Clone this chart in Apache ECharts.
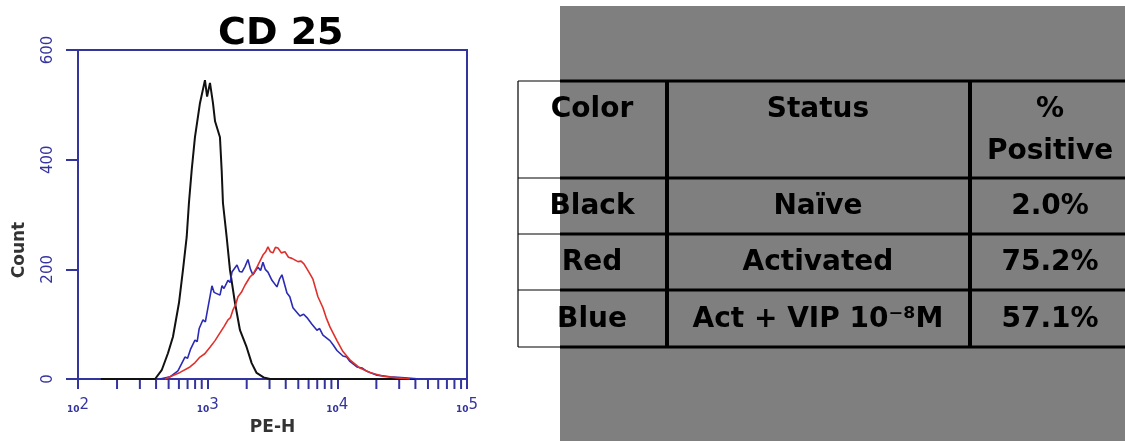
<!DOCTYPE html>
<html><head><meta charset="utf-8">
<script src="https://cdn.jsdelivr.net/npm/echarts@6/dist/echarts.min.js"></script>
<style>html,body{margin:0;padding:0;background:#fff}#c{width:1125px;height:441px}</style>
</head><body><div id="c"></div>
<script>
// ---- data ----
const titleText = 'CD 25';
const xAxisName = 'PE-H';
const yAxisName = 'Count';
const yTickValues = [0, 200, 400, 600];
const xMajorTicks = [100, 1000, 10000, 100000];
const xMinorTicks = [200,300,400,500,600,700,800,900,2000,3000,4000,5000,6000,7000,8000,9000,20000,30000,40000,50000,60000,70000,80000,90000];

// [PE-H value, count]
const blackNaive = [[150,0],[393,0],[442,16],[494,47],[540,77],[601,139],[645,199],[689,259],[717,321],[753,381],[798,441],[872,503],[953,545],[990,515],[1042,540],[1099,503],[1140,470],[1180,472],[1244,441],[1282,381],[1312,321],[1401,259],[1486,199],[1624,139],[1775,89],[1998,58],[2184,29],[2386,11],[2700,3],[3022,0],[40000,0]];
const blueActVip = [[429,0],[512,4],[590,15],[668,40],[700,38],[740,55],[798,71],[830,68],[860,92],[920,108],[960,104],[1005,130],[1079,170],[1120,158],[1159,160],[1244,153],[1290,170],[1336,165],[1434,180],[1490,176],[1540,195],[1683,208],[1760,196],[1839,195],[1940,205],[2045,218],[2140,200],[2235,190],[2442,204],[2560,198],[2669,213],[2780,200],[2917,195],[3132,180],[3421,168],[3580,182],[3740,190],[4088,157],[4300,150],[4547,130],[5149,115],[5500,118],[5829,112],[6371,100],[6961,89],[7300,92],[7745,80],[8770,70],[9300,62],[9931,52],[11050,42],[11800,40],[12510,32],[14160,22],[15500,20],[16910,14],[20200,7],[25440,4],[33200,2],[43350,0]];
const redActivated = [[469,0],[512,4],[612,12],[730,22],[800,30],[872,40],[950,46],[1042,58],[1140,70],[1244,84],[1340,96],[1434,108],[1500,112],[1567,126],[1640,135],[1713,150],[1820,158],[1939,171],[2119,186],[2250,192],[2399,204],[2530,215],[2669,226],[2800,232],[2917,241],[3050,232],[3188,230],[3330,240],[3483,239],[3700,230],[3945,232],[4200,222],[4467,220],[4969,214],[5250,215],[5526,210],[6039,195],[6485,182],[7086,150],[7745,130],[8200,112],[8770,95],[9931,70],[11050,50],[12510,35],[14940,20],[17840,12],[22470,5],[28800,2],[36290,0]];

const tableHeader = ['Color', 'Status', '%', 'Positive'];
const tableColor = ['Black', 'Red', 'Blue'];
const tableStatus = ['Naïve', 'Activated', 'Act + VIP 10⁻⁸M'];
const tablePositive = ['2.0%', '75.2%', '57.1%'];

// ---- styling ----
const AX = '#34349e';
const tableFont = 'bold 28px "DejaVu Sans"';

const chart = echarts.init(document.getElementById('c'), null, {renderer: 'canvas'});

// table graphics
const colX = [592, 818, 1050];
const rowY = [81, 178, 234, 290, 347];
const g = [];
g.push({type: 'rect', shape: {x: 560, y: 6, width: 565, height: 435}, style: {fill: '#7f7f7f'}});
rowY.forEach(y => {
  g.push({type: 'line', shape: {x1: 518, y1: y, x2: 560, y2: y}, style: {stroke: '#000', lineWidth: 1.2}});
  g.push({type: 'line', shape: {x1: 560, y1: y, x2: 1125, y2: y}, style: {stroke: '#000', lineWidth: 3}});
});
g.push({type: 'line', shape: {x1: 518, y1: 81, x2: 518, y2: 347}, style: {stroke: '#000', lineWidth: 1.2}});
[667, 970].forEach(x => g.push({type: 'line', shape: {x1: x, y1: 81, x2: x, y2: 347}, style: {stroke: '#000', lineWidth: 4}}));
function txt(t, x, y) {
  return {type: 'text', x: x, y: y, style: {text: t, font: tableFont, fill: '#000', align: 'center', verticalAlign: 'middle'}};
}
g.push(txt(tableHeader[0], colX[0], 110));
g.push(txt(tableHeader[1], colX[1], 110));
g.push(txt(tableHeader[2], colX[2], 110));
g.push(txt(tableHeader[3], colX[2], 152));
const rowMid = [207, 263, 320];
for (let i = 0; i < 3; i++) {
  g.push(txt(tableColor[i], colX[0], rowMid[i]));
  g.push(txt(tableStatus[i], colX[1], rowMid[i]));
  g.push(txt(tablePositive[i], colX[2], rowMid[i]));
}
g.push({type: 'text', x: 20, y: 250, rotation: Math.PI / 2,
  style: {text: yAxisName, font: 'bold 17px "DejaVu Sans"', fill: '#333', align: 'center', verticalAlign: 'middle'}});

const option = {
  animation: false,
  backgroundColor: '#fff',
  title: {text: titleText, left: 218, top: 15, padding: 0,
    textStyle: {fontFamily: 'DejaVu Sans', fontWeight: 'bold', fontSize: 38, color: '#000'}},
  grid: {left: 78, top: 50, right: 658, bottom: 62, show: true, borderColor: AX, borderWidth: 2, backgroundColor: 'transparent'},
  xAxis: {
    type: 'log', logBase: 10, min: xMajorTicks[0], max: xMajorTicks[xMajorTicks.length - 1],
    name: xAxisName, nameLocation: 'middle', nameGap: 40,
    nameTextStyle: {fontFamily: 'DejaVu Sans', fontWeight: 'bold', fontSize: 17, color: '#333'},
    axisLine: {show: true, lineStyle: {color: AX, width: 2}},
    axisTick: {show: true, length: 10, inside: false, lineStyle: {color: AX, width: 2}},
    splitLine: {show: false},
    axisLabel: {
      margin: 19, color: AX,
      formatter: v => '{s|10}{e|' + Math.round(Math.log10(v)) + '}',
      rich: {
        s: {fontSize: 9, fontWeight: 'bold', fontFamily: 'DejaVu Sans', color: AX, verticalAlign: 'bottom', lineHeight: 16},
        e: {fontSize: 15, fontFamily: 'DejaVu Sans', color: AX, verticalAlign: 'top', lineHeight: 16}
      }
    }
  },
  yAxis: {
    type: 'value', min: 0, max: 600, interval: 200,
    axisLine: {show: true, lineStyle: {color: AX, width: 2}},
    axisTick: {show: true, length: 12, inside: false, lineStyle: {color: AX, width: 2}},
    splitLine: {show: false},
    axisLabel: {rotate: 90, margin: 22, color: AX, fontFamily: 'DejaVu Sans', fontSize: 15,
      formatter: v => yTickValues.indexOf(v) >= 0 ? String(v) : ''}
  },
  graphic: g,
  series: [
    {type: 'scatter', data: xMinorTicks.map(v => [v, 0]), symbol: 'rect', symbolSize: [2, 10], symbolOffset: [0, 5],
      itemStyle: {color: AX, opacity: 1}, clip: false, silent: true, z: 1},
    {type: 'line', name: 'Black', data: blackNaive, showSymbol: false, lineStyle: {color: '#111', width: 2}, z: 3},
    {type: 'line', name: 'Blue', data: blueActVip, showSymbol: false, lineStyle: {color: '#2b2bb4', width: 1.6}, z: 4},
    {type: 'line', name: 'Red', data: redActivated, showSymbol: false, lineStyle: {color: '#e0302c', width: 1.6}, z: 5}
  ]
};
chart.setOption(option);
</script></body></html>
